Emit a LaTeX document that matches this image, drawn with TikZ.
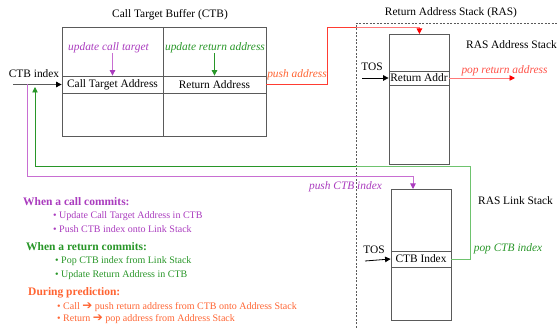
\documentclass[tikz,border=0pt]{standalone}
\usepackage{fontspec}
\setmainfont{Liberation Serif}
\newfontfamily\djv{DejaVu Sans}
\usetikzlibrary{arrows.meta}
\definecolor{cpurple}{RGB}{170,60,190}
\definecolor{lpurple}{RGB}{200,110,210}
\definecolor{cgreen}{RGB}{40,150,40}
\definecolor{lgreen}{RGB}{110,195,110}
\definecolor{corange}{RGB}{255,100,50}
\definecolor{cred}{RGB}{255,60,50}
\definecolor{lred}{RGB}{255,120,120}
\definecolor{cbox}{RGB}{90,90,90}
\begin{document}
\begin{tikzpicture}[x=1pt,y=-1pt,
  font=\fontsize{11.4}{13}\selectfont,
  box/.style={draw=cbox,line width=0.8pt,inner sep=0pt},
  cell/.style={box,font=\fontsize{11.4}{13}\selectfont},
  lbl/.style={inner sep=0pt},
  ital/.style={inner sep=0pt,font=\fontsize{11.4}{13}\selectfont\itshape},
  head/.style={inner sep=0pt,anchor=west,font=\fontsize{11.5}{13}\selectfont\bfseries},
  bul/.style={inner sep=0pt,anchor=west,font=\fontsize{10}{12}\selectfont},
  tip/.style={-{Triangle[length=5.5pt,width=5.5pt]}},
  conn/.style={line width=0.9pt}]
\useasboundingbox (0,0) rectangle (557,328);

% RAS dashed region
\coordinate (dbot) at (356,328);
\coordinate (dtop) at (356,23);
\coordinate (dright) at (557,23);
\draw[cbox,line width=0.7pt,dash pattern=on 2pt off 1.5pt] (dbot) -- (dtop) -- (dright);

% CTB table
\node[lbl] (ctbtitle) at (170,15) {Call Target Buffer (CTB)};
\node[box,anchor=north west,minimum width=204pt,minimum height=109pt] (ctb) at (62,27) {};
\node[cell,minimum width=101pt,minimum height=17pt] (cta) at (112.5,84.5) {Call Target Address};
\node[cell,minimum width=103pt,minimum height=17pt] (ra) at (214.5,84.5) {Return Address};
\draw[cbox,line width=0.8pt] (ctb.north -| cta.east) -- (ctb.south -| cta.east);

\node[ital,text=cpurple] (uct) at (108.5,48) {update call target};
\node[ital,text=cgreen] (ura) at (215,48) {update return address};
\draw[conn,lpurple,-{Triangle[length=5.5pt,width=5.5pt,fill=cpurple,color=cpurple]}] (uct.south -| cta.north) -- (cta.north);
\draw[conn,cgreen,tip] (ura.south -| ra.north) -- (ra.north);

\node[lbl] (ctbidx) at (34,74) {CTB index};
\coordinate (in) at (13,84.5);
\draw[conn,cbox,-{Triangle[length=5.5pt,width=5.5pt,fill=black,color=black]}] (in) -- (cta.west);

% RAS address stack
\node[lbl] (rastitle) at (451,13) {Return Address Stack (RAS)};
\node[box,anchor=north west,minimum width=60pt,minimum height=130pt] (ras) at (389,34) {};
\node[cell,minimum width=60pt,minimum height=14pt] (raddr) at (419,78) {Return Addr};
\node[lbl,anchor=west] (rasas) at (466,45) {RAS Address Stack};
\node[lbl] (tos1) at (372,67) {TOS};
\coordinate (tos1s) at (362,78);
\draw[line width=0.8pt,tip] (tos1s) -- (raddr.west);

% RAS link stack
\node[box,anchor=north west,minimum width=60pt,minimum height=131pt] (lnk) at (391,189) {};
\node[cell,minimum width=60pt,minimum height=16pt] (lrow) at (421,259) {CTB Index};
\node[lbl,anchor=west] (raslk) at (478,201) {RAS Link Stack};
\node[lbl] (tos2) at (374,250) {TOS};
\coordinate (tos2s) at (365,261);
\draw[line width=0.8pt,tip] (tos2s) -- (lrow.west);

% push address (red)
\node[ital,text=corange] (pushaddr) at (297,75) {push address};
\draw[conn,cred] (ra.east) -- (327,84.5) -- (327,27) -- (356,27);
\draw[conn,lred,-{Triangle[length=5.5pt,width=5.5pt,fill=red,color=red]}] (356,27) -| (ras.north);

% pop return address
\node[ital,text=cred!90] (popra) at (504.5,71) {pop return address};
\coordinate (pend) at (515,78);
\draw[conn,lred,-{Triangle[length=5.5pt,width=5.5pt,fill=red,color=red]}] (raddr.east) -- (pend);

% push CTB index (purple)
\node[ital,text=cpurple] (pushctb) at (345.5,187) {push CTB index};
\coordinate (pstart) at (27,84.5);
\draw[conn,lpurple,-{Triangle[length=5.5pt,width=5.5pt,fill=cpurple,color=cpurple]}] (pstart) -- (27,176) -| ([xshift=22pt]lnk.north west);

% pop CTB index (green)
\node[ital,text=cgreen] (popctb) at (508,249) {pop CTB index};
\coordinate (gend) at (35,87);
\draw[conn,lgreen] (lrow.east) -- (470,259) -- (470,166) -- (356,166);
\draw[conn,cgreen,tip] (356,166) -- (35,166) -- (gend);

% Legend
\node[head,text=cpurple] (h1) at (23,202) {When a call commits:};
\node[bul,text=cpurple] (b11) at (53,216) {\textbullet\ Update Call Target Address in CTB};
\node[bul,text=cpurple] (b12) at (53,229) {\textbullet\ Push CTB index onto Link Stack};
\node[head,text=cgreen] (h2) at (26,247) {When a return commits:};
\node[bul,text=cgreen] (b21) at (55,261) {\textbullet\ Pop CTB index from Link Stack};
\node[bul,text=cgreen] (b22) at (55,275) {\textbullet\ Update Return Address in CTB};
\node[head,text=corange] (h3) at (28,293) {During prediction:};
\node[bul,text=corange] (b31) at (57,307) {\textbullet\ Call {\djv\bfseries\fontsize{12}{12}\selectfont ➔} push return address from CTB onto Address Stack};
\node[bul,text=corange] (b32) at (57,319) {\textbullet\ Return {\djv\bfseries\fontsize{12}{12}\selectfont ➔} pop address from Address Stack};
\end{tikzpicture}
\end{document}
